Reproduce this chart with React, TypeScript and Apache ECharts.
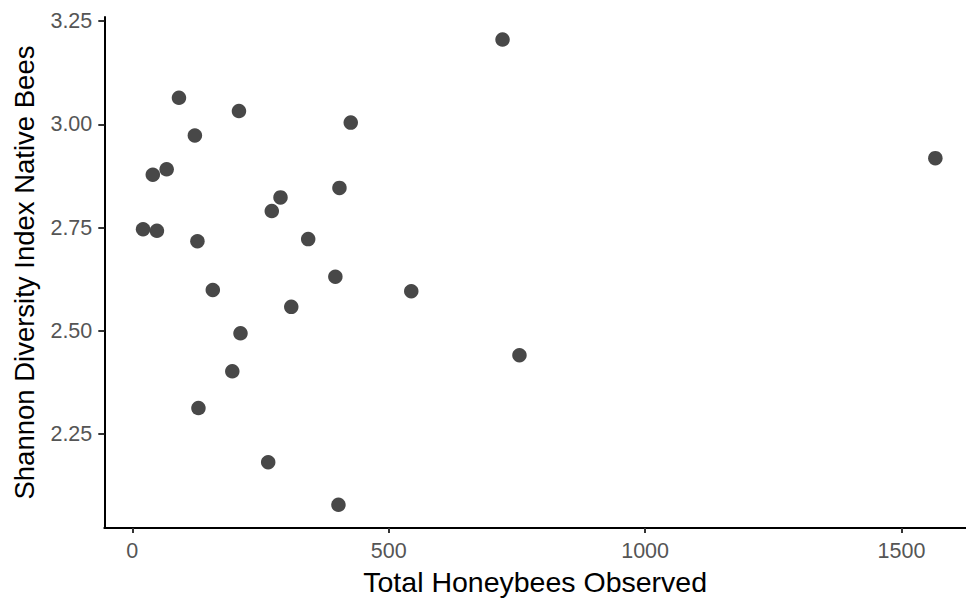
import React, { useEffect, useRef } from "react";
import * as echarts from "echarts";

const honeybees: number[] = [
  91, 208, 426, 122, 67, 40, 289, 404, 272, 21, 48, 127, 343,
  157, 396, 544, 310, 211, 195, 129, 265, 402, 722, 1566, 755,
];
const shannon: number[] = [
  3.064, 3.032, 3.004, 2.973, 2.891, 2.878, 2.823, 2.846, 2.79, 2.746, 2.742, 2.717, 2.722,
  2.599, 2.631, 2.596, 2.558, 2.494, 2.402, 2.313, 2.182, 2.079, 3.205, 2.918, 2.441,
];
const xTicks: number[] = [0, 500, 1000, 1500];
const yTicks: number[] = [2.25, 2.5, 2.75, 3.0, 3.25];

const FONT = "'Liberation Sans', Arial, sans-serif";

export default function App() {
  const ref = useRef<HTMLDivElement>(null);
  useEffect(() => {
    document.body.style.margin = "0";
    document.body.style.overflow = "hidden";
    document.documentElement.style.overflow = "hidden";
    if (!ref.current) return;
    const chart = echarts.init(ref.current, undefined, { renderer: "svg" });
    const points = honeybees.map((x, i) => [x, shannon[i]]);
    chart.setOption({
      animation: false,
      backgroundColor: "#ffffff",
      grid: { left: 104.3, right: 0, top: 17, bottom: 66, containLabel: false },
      xAxis: {
        type: "value",
        min: -54.6,
        max: 1625.8,
        name: "Total Honeybees Observed",
        nameLocation: "middle",
        nameGap: 35,
        nameTextStyle: { fontFamily: FONT, fontSize: 28.5, color: "#000000" },
        axisLine: { show: true, onZero: false, lineStyle: { color: "#000000", width: 2 } },
        axisTick: { show: true, length: 5, customValues: xTicks, lineStyle: { color: "#333333", width: 2 } },
        axisLabel: {
          customValues: xTicks,
          margin: 12,
          fontFamily: FONT,
          fontSize: 21.5,
          color: "#555555",
          formatter: (v: number) => String(v),
        },
        splitLine: { show: false },
      },
      yAxis: {
        type: "value",
        min: 2.0225,
        max: 3.2596,
        name: "Shannon Diversity Index Native Bees",
        nameLocation: "middle",
        nameRotate: 90,
        nameGap: 66,
        nameTextStyle: { fontFamily: FONT, fontSize: 27.5, color: "#000000" },
        axisLine: { show: true, onZero: false, lineStyle: { color: "#000000", width: 2 } },
        axisTick: { show: true, length: 6, customValues: yTicks, lineStyle: { color: "#333333", width: 2 } },
        axisLabel: {
          customValues: yTicks,
          margin: 12,
          fontFamily: FONT,
          fontSize: 21.5,
          color: "#555555",
          formatter: (v: number) => v.toFixed(2),
        },
        splitLine: { show: false },
      },
      series: [
        {
          type: "scatter",
          data: points,
          symbol: "circle",
          symbolSize: 14.5,
          itemStyle: { color: "#484848", opacity: 1 },
        },
      ],
    });
    return () => chart.dispose();
  }, []);
  return <div ref={ref} style={{ width: 966, height: 601, overflow: "hidden" }} />;
}
